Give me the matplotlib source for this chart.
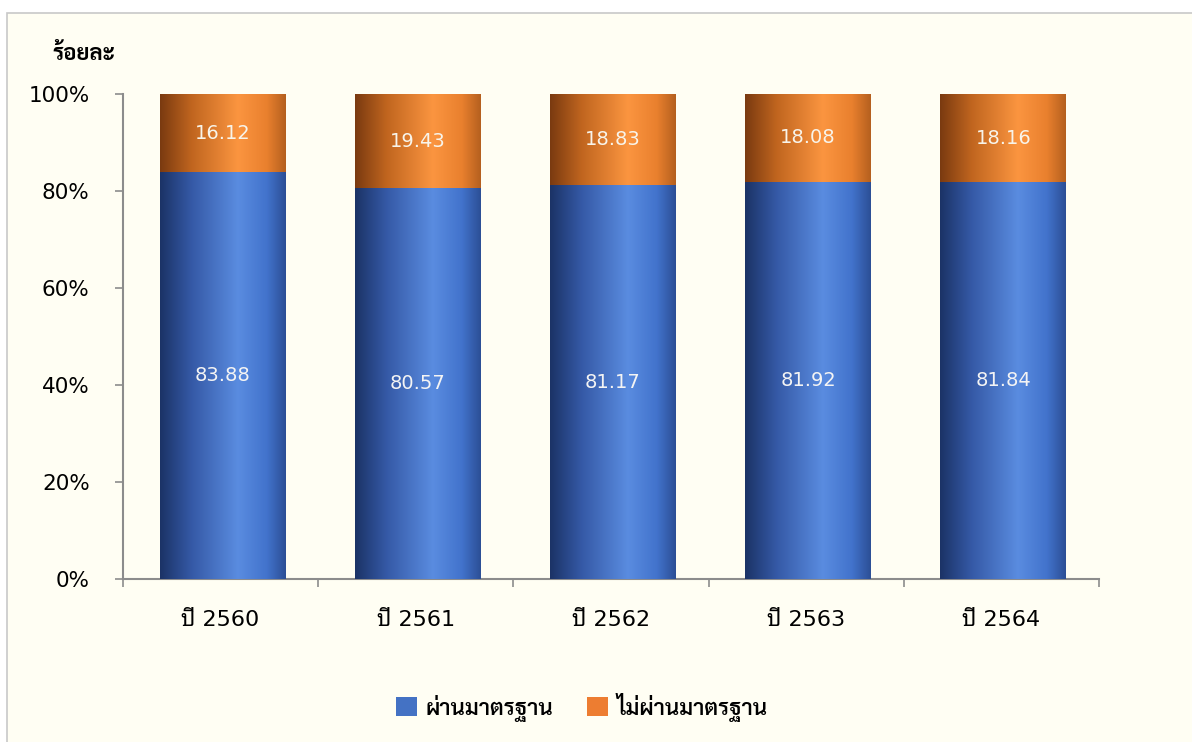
import numpy as np
import matplotlib
matplotlib.use("Agg")
import matplotlib.pyplot as plt
from matplotlib.colors import LinearSegmentedColormap
from matplotlib.patches import Rectangle

# DejaVu for digits (Tahoma-like width), Noto Sans Thai Looped for Thai letters
plt.rcParams['font.family'] = ['DejaVu Sans', 'Noto Sans Thai Looped']

# Data
years = ['ปี 2560', 'ปี 2561', 'ปี 2562', 'ปี 2563', 'ปี 2564']
passed = [83.88, 80.57, 81.17, 81.92, 81.84]
failed = [16.12, 19.43, 18.83, 18.08, 18.16]
series_names = ['ผ่านมาตรฐาน', 'ไม่ผ่านมาตรฐาน']
y_title = 'ร้อยละ'

# Cylinder-like horizontal shading (dark edge -> highlight -> darker edge)
blue_cmap = LinearSegmentedColormap.from_list(
    'blue_cyl', [(0.0, '#1b3366'), (0.25, '#3559a6'), (0.62, '#5a8ce0'),
                 (0.85, '#4273cc'), (1.0, '#2c4f96')])
orange_cmap = LinearSegmentedColormap.from_list(
    'orange_cyl', [(0.0, '#7a3a10'), (0.25, '#c0651f'), (0.62, '#fb9540'),
                   (0.85, '#e9802e'), (1.0, '#b5601f')])

bg = '#fffef3'
fig = plt.figure(figsize=(11.92, 7.42), dpi=100, facecolor='white')
# light outer frame of the chart area
fig.patches.append(Rectangle((7 / 1192, -0.01), 1.0, 1 - 13 / 742 + 0.01,
                             transform=fig.transFigure, facecolor=bg,
                             edgecolor='#c8c8c8', linewidth=1.2, zorder=-5))

ax = fig.add_axes([123 / 1192, 1 - 579 / 742, 976 / 1192, 485 / 742])
ax.patch.set_alpha(0)

x = np.arange(len(years))
width = 0.645
b1 = ax.bar(x + 0.01, passed, width, color='#4472c4', label=series_names[0], zorder=2)
b2 = ax.bar(x + 0.01, failed, width, bottom=passed, color='#ed7d31', label=series_names[1], zorder=2)

grad = np.linspace(0, 1, 256).reshape(1, -1)
for bars, cmap in ((b1, blue_cmap), (b2, orange_cmap)):
    for r in bars:
        x0, y0 = r.get_x(), r.get_y()
        im = ax.imshow(grad, cmap=cmap, aspect='auto', zorder=3,
                       extent=(x0, x0 + r.get_width(), y0, y0 + r.get_height()))
        im.set_clip_path(r)

for i in x:
    ax.text(i + 0.01, passed[i] / 2, f'{passed[i]:.2f}', ha='center', va='center',
            color='#f4f4f4', fontsize=14, zorder=4)
    ax.text(i + 0.01, passed[i] + failed[i] / 2, f'{failed[i]:.2f}', ha='center', va='center',
            color='#f8f4ea', fontsize=14, zorder=4)

ax.set_xlim(-0.5, len(years) - 0.5)
ax.set_ylim(0, 100)
ax.set_yticks(range(0, 101, 20))
ax.set_yticklabels([f'{v}%' for v in range(0, 101, 20)], fontsize=15.5)
ax.set_xticks(x)
ax.set_xticklabels(years, fontsize=16)
ax.set_xticks(np.arange(-0.5, len(years), 1), minor=True)
ax.tick_params(axis='x', which='major', length=0, pad=22)
ax.tick_params(axis='x', which='minor', length=6, color='#8c8c8c', width=1.2)
ax.tick_params(axis='y', length=6, color='#8c8c8c', width=1.2, pad=18)

for s in ('top', 'right'):
    ax.spines[s].set_visible(False)
for s in ('left', 'bottom'):
    ax.spines[s].set_color('#8c8c8c')
    ax.spines[s].set_linewidth(1.5)

fig.text(84 / 1192, 1 - 55 / 742, y_title, ha='center', va='center',
         fontsize=16, fontweight='bold', family=['Sarabun', 'DejaVu Sans'])

fig.legend(handles=[b1, b2], labels=series_names, loc='center',
           bbox_to_anchor=(582 / 1192, 1 - 707 / 742), ncol=2, frameon=False,
           prop={'family': ['Sarabun', 'DejaVu Sans'], 'weight': 'semibold', 'size': 16},
           handlelength=0.95, handleheight=0.95,
           columnspacing=1.5, handletextpad=0.4)

fig.savefig('out.png', dpi=100, facecolor=fig.get_facecolor())
